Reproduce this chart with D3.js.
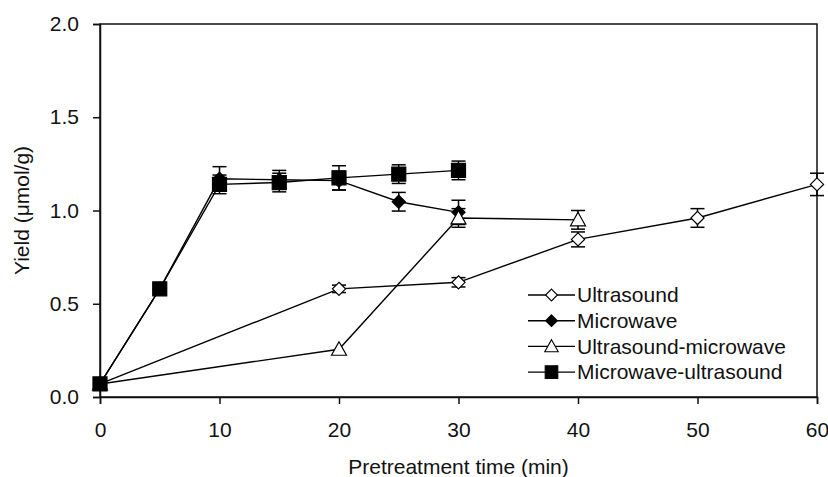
<!DOCTYPE html>
<html>
<head>
<meta charset="utf-8">
<script src="https://cdn.jsdelivr.net/npm/d3@7"></script>
<style>
  body { margin: 0; background: #fff; }
  text { font-family: "Liberation Sans", Arial, sans-serif; fill: #111; }
</style>
</head>
<body>
<div id="chart"></div>
<script>
const width = 828;
const height = 477;

const xTicks = [0, 10, 20, 30, 40, 50, 60];
const yTicks = [0, 0.5, 1.0, 1.5, 2.0];

const ultrasoundTime = [0, 20, 30, 40, 50, 60];
const ultrasoundYield = [0.07, 0.58, 0.615, 0.845, 0.96, 1.14];
const ultrasoundErr = [0, 0.02, 0.025, 0.04, 0.05, 0.06];

const microwaveTime = [0, 5, 10, 15, 20, 25, 30];
const microwaveYield = [0.07, 0.58, 1.17, 1.165, 1.16, 1.047, 0.99];
const microwaveErr = [0, 0, 0.065, 0.05, 0.05, 0.05, 0.065];

const usMwTime = [0, 20, 30, 40];
const usMwYield = [0.07, 0.256, 0.96, 0.95];
const usMwErr = [0, 0, 0.05, 0.05];

const mwUsTime = [0, 5, 10, 15, 20, 25, 30];
const mwUsYield = [0.07, 0.58, 1.14, 1.15, 1.175, 1.195, 1.215];
const mwUsErr = [0, 0, 0.05, 0.05, 0.065, 0.05, 0.05];

const series = [
  { name: "Ultrasound", time: ultrasoundTime, y: ultrasoundYield, err: ultrasoundErr, shape: "diamond", fill: "#fff" },
  { name: "Microwave", time: microwaveTime, y: microwaveYield, err: microwaveErr, shape: "diamond", fill: "#000" },
  { name: "Ultrasound-microwave", time: usMwTime, y: usMwYield, err: usMwErr, shape: "triangle", fill: "#fff" },
  { name: "Microwave-ultrasound", time: mwUsTime, y: mwUsYield, err: mwUsErr, shape: "square", fill: "#000" },
];

const margin = { left: 100, right: 11, top: 24, bottom: 80 };
const FONT = "21px";

const svg = d3.select("#chart")
  .append("svg")
  .attr("width", width)
  .attr("height", height);

const x = d3.scaleLinear().domain([0, 60]).range([margin.left, width - margin.right]);
const y = d3.scaleLinear().domain([0, 2]).range([height - margin.bottom, margin.top]);

function markerPath(shape) {
  if (shape === "diamond") return d3.symbol(d3.symbolDiamond2, 110)();
  if (shape === "triangle") return "M0,-7.5L7.5,6L-7.5,6Z";
  return "M-7,-7H7V7H-7Z";
}

// frame
svg.append("rect")
  .attr("x", x(0)).attr("y", y(2))
  .attr("width", x(60) - x(0)).attr("height", y(0) - y(2))
  .attr("fill", "none").attr("stroke", "#111").attr("stroke-width", 1.5);

const xAxis = svg.append("g")
  .attr("transform", `translate(0,${y(0)})`)
  .call(d3.axisBottom(x).tickValues(xTicks).tickSize(7).tickPadding(18).tickFormat(d3.format("d")));

const yAxis = svg.append("g")
  .attr("transform", `translate(${x(0)},0)`)
  .call(d3.axisLeft(y).tickValues(yTicks).tickSize(7).tickPadding(14).tickFormat(d3.format(".1f")));

[xAxis, yAxis].forEach(ax => {
  ax.select(".domain").attr("stroke", "#111").attr("stroke-width", 1.5);
  ax.selectAll(".tick line").attr("stroke", "#111").attr("stroke-width", 1.5);
  ax.selectAll(".tick text").style("font-size", FONT).attr("fill", "#111")
    .style("font-family", "'Liberation Sans', Arial, sans-serif");
});

svg.append("text")
  .attr("x", (x(0) + x(60)) / 2)
  .attr("y", 474)
  .attr("text-anchor", "middle")
  .style("font-size", FONT)
  .text("Pretreatment time (min)");

svg.append("text")
  .attr("transform", `translate(29,${(y(0) + y(2)) / 2}) rotate(-90)`)
  .attr("text-anchor", "middle")
  .style("font-size", FONT)
  .text("Yield (μmol/g)");

const line = d3.line().x(d => x(d.t)).y(d => y(d.v));

series.forEach(s => {
  const pts = s.time.map((t, i) => ({ t, v: s.y[i], e: s.err[i] }));
  const g = svg.append("g");

  g.append("path")
    .datum(pts)
    .attr("d", line)
    .attr("fill", "none")
    .attr("stroke", "#000")
    .attr("stroke-width", 1.4);

  const bars = g.selectAll(".err")
    .data(pts.filter(p => p.e > 0))
    .join("g")
    .attr("class", "err");

  bars.append("line")
    .attr("x1", d => x(d.t)).attr("x2", d => x(d.t))
    .attr("y1", d => y(d.v + d.e)).attr("y2", d => y(d.v - d.e))
    .attr("stroke", "#000").attr("stroke-width", 1.5);

  [1, -1].forEach(sign => {
    bars.append("line")
      .attr("x1", d => x(d.t) - 7).attr("x2", d => x(d.t) + 7)
      .attr("y1", d => y(d.v + sign * d.e)).attr("y2", d => y(d.v + sign * d.e))
      .attr("stroke", "#000").attr("stroke-width", 1.5);
  });

  g.selectAll(".mark")
    .data(pts)
    .join("path")
    .attr("class", "mark")
    .attr("d", markerPath(s.shape))
    .attr("transform", d => `translate(${x(d.t)},${y(d.v)})`)
    .attr("fill", s.fill)
    .attr("stroke", "#000")
    .attr("stroke-width", 1.2);
});

// legend
const legend = svg.append("g").attr("transform", "translate(528,295)");
series.forEach((s, i) => {
  const row = legend.append("g").attr("transform", `translate(0,${i * 25.7})`);
  row.append("line").attr("x1", 0).attr("x2", 47).attr("y1", 0).attr("y2", 0)
    .attr("stroke", "#000").attr("stroke-width", 1.4);
  row.append("path")
    .attr("d", markerPath(s.shape))
    .attr("transform", `translate(23.5,0) scale(0.9)`)
    .attr("fill", s.fill).attr("stroke", "#000").attr("stroke-width", 1.2);
  row.append("text")
    .attr("x", 49).attr("y", 0).attr("dy", "0.35em")
    .style("font-size", FONT)
    .text(s.name);
});
</script>
</body>
</html>
